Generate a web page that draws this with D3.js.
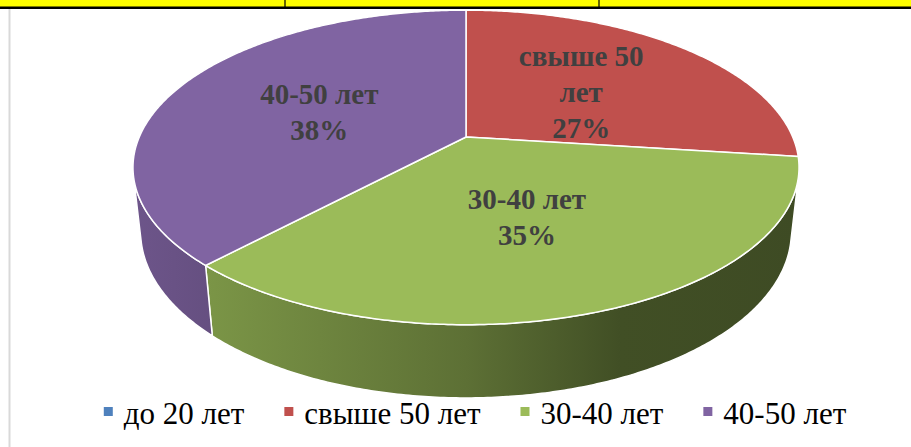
<!DOCTYPE html>
<html>
<head>
<meta charset="utf-8">
<script src="https://cdn.jsdelivr.net/npm/d3@7"></script>
</head>
<body style="margin:0">
<svg id="chart" width="911" height="447"></svg>
<script>
const categories = ['до 20 лет', 'свыше 50 лет', '30-40 лет', '40-50 лет']
const values = [0, 27, 35, 38]
const colors = ['#4F81BD', '#C0504D', '#9BBB59', '#8064A2']

const width = 911
const height = 447
const serif = "'Liberation Serif'"

// perspective settings for the tilted disc
const cx = 466
const cy = 137
const S = 1496
const R = 0.2184
const tilt = 27.6 * Math.PI / 180
const sA = Math.sin(tilt)
const cA = Math.cos(tilt)
const H = 0.049

function proj(theta, rho, y) {
  const X = R * rho * Math.sin(theta)
  const Z = -R * rho * Math.cos(theta)
  const v = Z * sA - y * cA
  const w = 1 - Z * cA - y * sA
  return [cx + S * X / w, cy + S * v / w]
}

function arcPts(a0, a1, y) {
  const n = Math.max(2, Math.ceil(Math.abs(a1 - a0) / 0.01))
  return d3.range(n + 1).map(i => proj(a0 + (a1 - a0) * i / n, 1, y))
}

const svg = d3.select('#chart')

// table row remains above the chart
svg.append('rect').attr('x', 0).attr('y', 0).attr('width', width).attr('height', 7).attr('fill', '#ffff00')
svg.append('line').attr('x1', 0).attr('x2', width).attr('y1', 7.8).attr('y2', 7.8)
  .attr('stroke', '#000').attr('stroke-width', 2.6)
;[285, 599].forEach(x => {
  svg.append('line').attr('x1', x).attr('x2', x).attr('y1', 0).attr('y2', 7)
    .attr('stroke', '#000').attr('stroke-width', 1.2)
})
svg.append('line').attr('x1', 9.5).attr('x2', 9.5).attr('y1', 9).attr('y2', height)
  .attr('stroke', '#d9d9d9').attr('stroke-width', 2)

const pie = d3.pie().sort(null).startAngle(0).endAngle(2 * Math.PI)
const arcs = pie(values).map((d, i) => ({ ...d, name: categories[i], color: colors[i] }))
  .filter(d => d.value > 0)

// side shading: darker towards the right
const defs = svg.append('defs')
const shade = [[133, 0.85], [215, 0.79], [466, 0.6], [620, 0.42], [799, 0.4]]
arcs.forEach((d, i) => {
  const base = d3.rgb(d.color)
  const g = defs.append('linearGradient').attr('id', 'side' + i)
    .attr('gradientUnits', 'userSpaceOnUse')
    .attr('x1', 133).attr('x2', 799).attr('y1', 0).attr('y2', 0)
  shade.forEach(([x, f]) => {
    g.append('stop').attr('offset', (x - 133) / (799 - 133))
      .attr('stop-color', d3.rgb(base.r * f, base.g * f, base.b * f))
  })
})

const line = d3.line()
const visLo = Math.acos(-R / cA)
const visHi = 2 * Math.PI - visLo

arcs.forEach((d, i) => {
  const a0 = Math.max(d.startAngle, visLo)
  const a1 = Math.min(d.endAngle, visHi)
  if (a1 <= a0) return
  const pts = arcPts(a0, a1, 0).concat(arcPts(a1, a0, -H))
  svg.append('path')
    .attr('d', line(pts) + 'Z')
    .attr('fill', `url(#side${i})`)
    .attr('stroke', '#fff').attr('stroke-width', 1.5).attr('stroke-linejoin', 'round')
})

arcs.forEach(d => {
  const pts = [proj(0, 0, 0)].concat(arcPts(d.startAngle, d.endAngle, 0))
  svg.append('path')
    .attr('d', line(pts) + 'Z')
    .attr('fill', d.color)
    .attr('stroke', '#fff').attr('stroke-width', 1.5).attr('stroke-linejoin', 'round')
})

// data labels, one text per line; the long name breaks after its number
const allText = []
arcs.forEach(d => {
  const mid = (d.startAngle + d.endAngle) / 2
  const [x, y] = proj(mid, 0.5, 0)
  const words = d.name.split(' ')
  const lines = words.length > 2
    ? [words.slice(0, -1).join(' '), words[words.length - 1]]
    : [d.name]
  lines.push(d.value + '%')
  const lh = 36
  const y0 = y - (lines.length - 1) * lh / 2 + 12
  lines.forEach((s, k) => {
    allText.push(svg.append('text').attr('x', x).attr('y', y0 + k * lh)
      .style('font-family', serif).style('font-weight', 'bold')
      .attr('font-size', 29).attr('fill', '#404040').attr('text-anchor', 'middle')
      .text(s))
  })
})

// legend
const legendText = categories.map(c => svg.append('text')
  .style('font-family', serif).attr('font-size', 31).attr('fill', '#000')
  .attr('y', 424).text(c))
const legendRect = categories.map((c, i) => svg.append('rect')
  .attr('width', 9).attr('height', 9).attr('y', 407).attr('fill', colors[i]))

function layoutLegend() {
  const ws = legendText.map(t => t.node().getComputedTextLength())
  const total = d3.sum(ws) + ws.length * 20 + (ws.length - 1) * 40
  let lx = 475 - total / 2
  ws.forEach((w, i) => {
    legendRect[i].attr('x', lx)
    legendText[i].attr('x', lx + 20)
    lx += 20 + w + 40
  })
}
layoutLegend()

// re-apply the serif face once it is loaded
if (document.fonts) {
  Promise.all([
    document.fonts.load("bold 29px 'Liberation Serif'", 'свыше 50 лет 27%'),
    document.fonts.load("31px 'Liberation Serif'", 'до 20 лет')
  ]).catch(() => {}).then(() => {
    allText.concat(legendText).forEach(t => t.style('font-family', serif))
    layoutLegend()
  })
}
</script>
</body>
</html>
